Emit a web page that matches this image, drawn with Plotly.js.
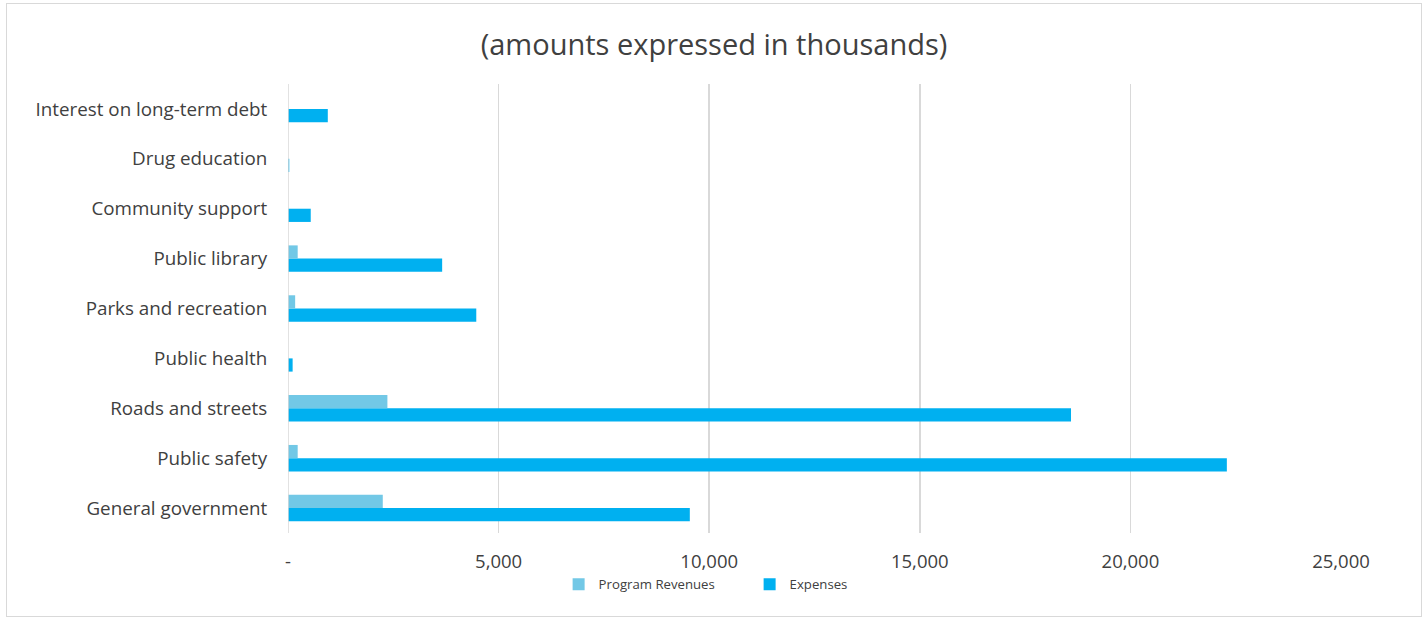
<!DOCTYPE html>
<html>
<head>
<meta charset="utf-8">
<script src="https://cdn.plot.ly/plotly-3.0.1.min.js"></script>
<style>
html,body{margin:0;padding:0;background:#fff;}
#wrap{position:relative;width:1428px;height:619px;}
#chart{width:1428px;height:619px;}
#frame{position:absolute;left:6px;top:3px;width:1414px;height:612px;border:1px solid #d9d9d9;pointer-events:none;}
</style>
</head>
<body>
<div id="wrap"><div id="chart"></div><div id="frame"></div></div>
<script>
const categories = ["General government","Public safety","Roads and streets","Public health","Parks and recreation","Public library","Community support","Drug education","Interest on long-term debt"];
const programRevenues = [2250, 230, 2360, 0, 170, 230, 0, 0, 0];
const expenses = [9540, 22290, 18590, 110, 4470, 3660, 540, 30, 945];
const xTickVals = [0, 5000, 10000, 15000, 20000, 25000];
const xTickText = ["-", "5,000", "10,000", "15,000", "20,000", "25,000"];

const font = "'Open Sans', 'Noto Sans', sans-serif";

const traces = [
  {type:"bar", orientation:"h", name:"Expenses", y:categories, x:expenses,
   marker:{color:"#00B0F0"}, hoverinfo:"x+name"},
  {type:"bar", orientation:"h", name:"Program Revenues", y:categories, x:programRevenues,
   marker:{color:"#72C8E6"}, hoverinfo:"x+name"}
];

const layout = {
  width:1428, height:619,
  margin:{l:288, r:87, t:84, b:86},
  paper_bgcolor:"#fff", plot_bgcolor:"#fff",
  barmode:"group", bargap:0.47, bargroupgap:0,
  title:{text:"(amounts expressed in thousands)", x:0.5, xref:"container", xanchor:"center", y:0.927, yref:"container", yanchor:"middle",
         font:{family:font, size:29, color:"#404040"}},
  font:{family:font, color:"#404040"},
  xaxis:{range:[0,25000], tickvals:xTickVals, ticktext:xTickText,
         showgrid:true, gridcolor:"#d9d9d9", gridwidth:1.5,
         zeroline:false, showline:false,
         ticks:"outside", ticklen:12, tickcolor:"rgba(0,0,0,0)",
         tickfont:{family:font, size:18.5, color:"#404040"}, fixedrange:true},
  yaxis:{type:"category", categoryorder:"array", categoryarray:categories,
         showgrid:false, zeroline:false, showline:false,
         ticks:"outside", ticklen:16, tickcolor:"rgba(0,0,0,0)",
         tickfont:{family:font, size:18.8, color:"#404040"}, fixedrange:true},
  showlegend:true,
  legend:{orientation:"h", traceorder:"reversed", x:0.257, xanchor:"left", y:-0.115, yanchor:"middle",
          entrywidth:146, entrywidthmode:"pixels",
          font:{family:font, size:13.2, color:"#404040"}, itemwidth:30, bgcolor:"rgba(0,0,0,0)"},
  shapes:[
    {type:"line", xref:"x", yref:"paper", x0:0, x1:0, y0:0, y1:1, line:{color:"#d9d9d9", width:1.5}}
  ]
};

Plotly.newPlot("chart", traces, layout, {displayModeBar:false, staticPlot:true});
</script>
</body>
</html>
